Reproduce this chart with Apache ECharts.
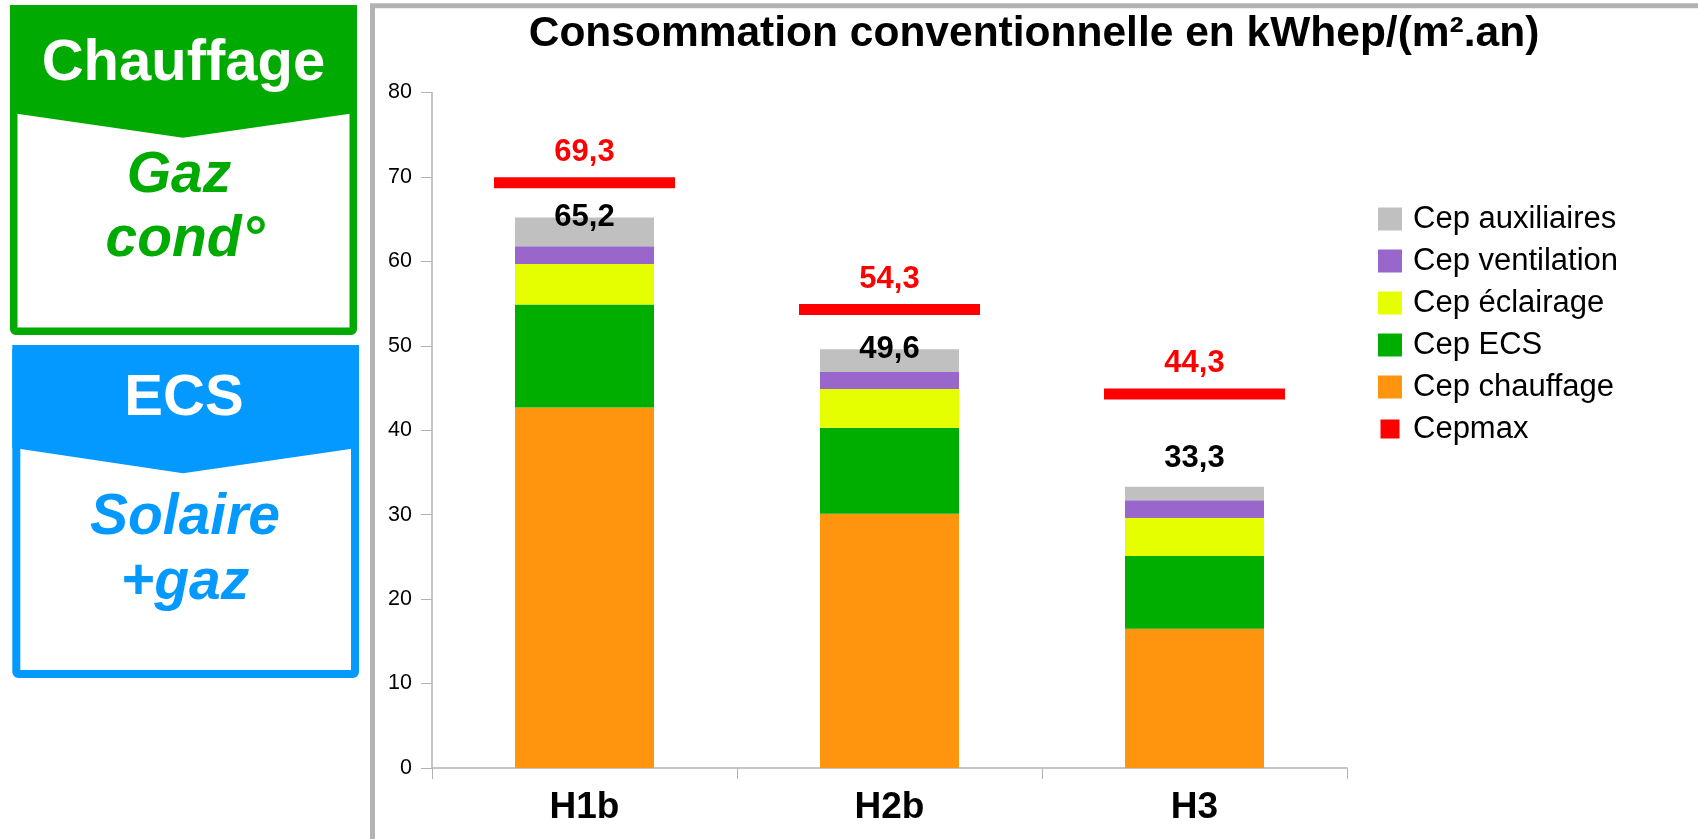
<!DOCTYPE html>
<html>
<head>
<meta charset="utf-8">
<script src="https://cdn.jsdelivr.net/npm/echarts@6/dist/echarts.min.js"></script>
<style>
html, body { margin: 0; padding: 0; background: #fff; }
#chart { width: 1698px; height: 839px; }
</style>
</head>
<body>
<div id="chart"></div>
<script>
// Conventional primary energy consumption per climate zone (kWhep/(m².an))
const categories = ['H1b', 'H2b', 'H3'];
const cepChauffage = [42.7, 30.1, 16.5];
const cepEcs = [12.2, 10.2, 8.6];
const cepEclairage = [4.8, 4.6, 4.5];
const cepVentilation = [2.1, 2.0, 2.1];
const cepAuxiliaires = [3.4, 2.7, 1.6];
const cepMax = [69.3, 54.3, 44.3];
const yAxisTicks = { min: 0, max: 80, interval: 10 };

const FONT = "'Liberation Sans', Arial, sans-serif";
const GREEN = '#00aa00';
const BLUE = '#0399ff';
const AXIS_GREY = '#b3b3b3';

const totals = categories.map((_, i) =>
  cepChauffage[i] + cepEcs[i] + cepEclairage[i] + cepVentilation[i] + cepAuxiliaires[i]);
const fmt = v => v.toFixed(1).replace('.', ',');

// legend squares: a fixed 30x24 box so the text sits a bit further right
const sqIcon = 'path://M0,0M30,24M0,0.5h24v23h-24z';
const smallSqIcon = 'path://M0,0M30,24M2.5,2.5h19v19h-19z';

const stackSeries = [
  { name: 'Cep chauffage', data: cepChauffage, color: '#ff950e' },
  { name: 'Cep ECS', data: cepEcs, color: '#00ae00' },
  { name: 'Cep éclairage', data: cepEclairage, color: '#e6ff00' },
  { name: 'Cep ventilation', data: cepVentilation, color: '#9966cc' },
  { name: 'Cep auxiliaires', data: cepAuxiliaires, color: '#c0c0c0' }
].map(s => ({
  name: s.name,
  type: 'bar',
  stack: 'cep',
  barWidth: 139,
  data: s.data,
  itemStyle: { color: s.color },
  emphasis: { disabled: true }
}));

const chart = echarts.init(document.getElementById('chart'), null, { renderer: 'canvas' });

chart.setOption({
  animation: false,
  backgroundColor: '#ffffff',
  textStyle: { fontFamily: FONT },
  grid: { left: 432, right: 351, top: 92.5, bottom: 71, containLabel: false },
  legend: {
    orient: 'vertical',
    left: 1378,
    top: 203.5,
    padding: 0,
    itemWidth: 30,
    itemHeight: 24,
    itemGap: 11,
    selectedMode: false,
    textStyle: { fontFamily: FONT, fontSize: 31, color: '#000', lineHeight: 31 },
    data: [
      { name: 'Cep auxiliaires', icon: sqIcon },
      { name: 'Cep ventilation', icon: sqIcon },
      { name: 'Cep éclairage', icon: sqIcon },
      { name: 'Cep ECS', icon: sqIcon },
      { name: 'Cep chauffage', icon: sqIcon },
      { name: 'Cepmax', icon: smallSqIcon }
    ]
  },
  xAxis: {
    type: 'category',
    data: categories,
    boundaryGap: true,
    axisLine: { lineStyle: { color: AXIS_GREY, width: 1.5 } },
    axisTick: { show: true, length: 11, interval: 0, lineStyle: { color: AXIS_GREY } },
    axisLabel: { fontFamily: FONT, fontSize: 37, fontWeight: 'bold', color: '#000', margin: 21 }
  },
  yAxis: {
    type: 'value',
    min: yAxisTicks.min,
    max: yAxisTicks.max,
    interval: yAxisTicks.interval,
    axisLine: { show: true, lineStyle: { color: AXIS_GREY, width: 1.5 } },
    axisTick: { show: true, length: 11, lineStyle: { color: AXIS_GREY } },
    splitLine: { show: false },
    axisLabel: { fontFamily: FONT, fontSize: 21.5, color: '#000', margin: 20 }
  },
  series: [
    ...stackSeries,
    {
      name: 'Cepmax',
      type: 'scatter',
      symbol: 'rect',
      symbolSize: [181, 11],
      data: cepMax,
      itemStyle: { color: '#ff0000', opacity: 1 },
      label: {
        show: true,
        position: 'top',
        distance: 9,
        formatter: p => fmt(p.value),
        fontFamily: FONT,
        fontSize: 31,
        fontWeight: 'bold',
        color: '#ff0000',
        opacity: 1
      },
      emphasis: { disabled: true },
      z: 5
    },
    {
      name: 'Total',
      type: 'scatter',
      symbolSize: 0,
      silent: true,
      data: totals.map((v, i) => ({
        value: v,
        label: i === 2 ? { offset: [0, -28] } : {}
      })),
      itemStyle: { opacity: 1 },
      label: {
        show: true,
        position: 'inside',
        formatter: p => fmt(p.value),
        fontFamily: FONT,
        fontSize: 31,
        fontWeight: 'bold',
        color: '#000000',
        opacity: 1
      },
      z: 6
    }
  ],
  graphic: [
    // chart frame
    {
      type: 'rect', silent: true, z: 0,
      shape: { x: 372.5, y: 5.8, width: 1500, height: 1000 },
      style: { fill: 'none', stroke: AXIS_GREY, lineWidth: 5 }
    },
    {
      type: 'text', silent: true,
      style: {
        text: 'Consommation conventionnelle en kWhep/(m².an)',
        x: 1034, y: 34, align: 'center', verticalAlign: 'middle',
        font: 'bold 42.5px ' + FONT, fill: '#000'
      }
    },
    // heating box
    {
      type: 'rect', silent: true,
      shape: { x: 13.75, y: 8.75, width: 339.5, height: 322.5, r: 2 },
      style: { fill: '#fff', stroke: GREEN, lineWidth: 7.5 }
    },
    {
      type: 'polygon', silent: true,
      shape: { points: [[10, 5], [357, 5], [357, 112.7], [183, 137.7], [10, 112.7]] },
      style: { fill: GREEN }
    },
    {
      type: 'text', silent: true,
      style: { text: 'Chauffage', x: 183.5, y: 64, align: 'center', verticalAlign: 'middle',
               font: 'bold 58px ' + FONT, fill: '#fff' }
    },
    {
      type: 'text', silent: true,
      style: { text: 'Gaz', x: 179, y: 176, align: 'center', verticalAlign: 'middle',
               font: 'italic bold 57px ' + FONT, fill: GREEN }
    },
    {
      type: 'text', silent: true,
      style: { text: 'cond°', x: 185, y: 240, align: 'center', verticalAlign: 'middle',
               font: 'italic bold 57px ' + FONT, fill: GREEN }
    },
    // hot water box
    {
      type: 'rect', silent: true,
      shape: { x: 16.3, y: 349, width: 338.7, height: 325, r: 2 },
      style: { fill: '#fff', stroke: BLUE, lineWidth: 8 }
    },
    {
      type: 'polygon', silent: true,
      shape: { points: [[12.3, 345], [359, 345], [359, 447.7], [183, 473.3], [12.3, 447.7]] },
      style: { fill: BLUE }
    },
    {
      type: 'text', silent: true,
      style: { text: 'ECS', x: 184, y: 399, align: 'center', verticalAlign: 'middle',
               font: 'bold 58px ' + FONT, fill: '#fff' }
    },
    {
      type: 'text', silent: true,
      style: { text: 'Solaire', x: 185, y: 518, align: 'center', verticalAlign: 'middle',
               font: 'italic bold 57px ' + FONT, fill: BLUE }
    },
    {
      type: 'text', silent: true,
      style: { text: '+gaz', x: 185, y: 583, align: 'center', verticalAlign: 'middle',
               font: 'italic bold 57px ' + FONT, fill: BLUE }
    }
  ]
});
</script>
</body>
</html>
